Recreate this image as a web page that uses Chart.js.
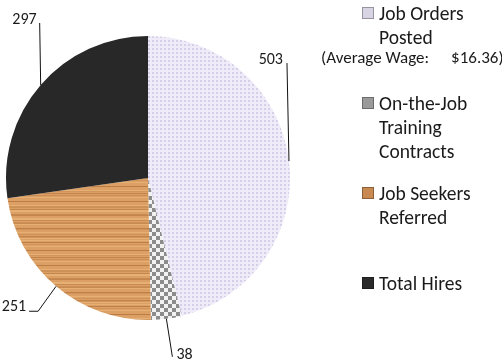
<!doctype html>
<html lang="en">
<head>
<meta charset="utf-8">
<title>Job Orders and Hires</title>
<script src="https://cdn.jsdelivr.net/npm/chart.js@4.4.0/dist/chart.umd.min.js"></script>
<style>
  html, body { margin: 0; padding: 0; background: #fff; }
  #wrap { position: relative; width: 502px; height: 360px; }
  #legend { position: absolute; left: 0; top: 0; width: 502px; height: 360px; pointer-events: none;
            font-family: Carlito, Lato, "Open Sans", sans-serif; color: #1a1a1a; }
  .item { position: absolute; left: 362px; width: 140px; font-size: 19.5px; line-height: 24px; }
  .box { position: absolute; left: 0; top: 6px; width: 10px; height: 10px; border: 1px solid rgba(0,0,0,0.3); }
  .txt { margin-left: 17px; width: 118px; }
  .note { position: absolute; left: 321px; top: 47px; font-size: 17px; line-height: 22px; white-space: nowrap; }
  .note span { padding-left: 22px; }
</style>
</head>
<body>
<div id="wrap">
  <canvas id="pie" width="502" height="360"></canvas>
  <div id="legend"></div>
</div>

<script>
// data
var categories = ['Job Orders Posted', 'On-the-Job Training Contracts', 'Job Seekers Referred', 'Total Hires'];
var counts = [503, 38, 251, 297];
var averageWage = 16.36;

// textures for the slices
function makePattern(size, draw) {
  var c = document.createElement('canvas');
  c.width = size; c.height = size;
  var g = c.getContext('2d');
  draw(g, size);
  return g.createPattern(c, 'repeat');
}

var dots = makePattern(4, function (g) {
  g.fillStyle = '#efebf8'; g.fillRect(0, 0, 4, 4);
  g.fillStyle = '#d6cfe8'; g.fillRect(0, 0, 2, 2);
});
var checks = makePattern(8, function (g) {
  g.fillStyle = '#f2f2f2'; g.fillRect(0, 0, 8, 8);
  g.fillStyle = '#8c8c8c'; g.fillRect(0, 0, 4, 4); g.fillRect(4, 4, 4, 4);
});
var wood = makePattern(64, function (g) {
  g.fillStyle = '#dca064'; g.fillRect(0, 0, 64, 64);
  for (var y = 0; y < 64; y++) {
    var k = Math.sin(y * 0.9) * 0.5 + Math.sin(y * 2.3) * 0.5;
    if (k > 0.25) { g.fillStyle = 'rgba(150,85,35,' + (k * 0.5).toFixed(2) + ')'; g.fillRect(0, y, 64, 1); }
    else if (k < -0.5) { g.fillStyle = 'rgba(250,205,150,0.35)'; g.fillRect(0, y, 64, 1); }
  }
});

var fills = [dots, checks, wood, '#282828'];
var swatches = ['#d9d4e3', '#9a9a9a', '#c98a52', '#2b2b2b'];

// value labels with leader lines, offsets from the slice's outer mid point
var leaders = {
  id: 'leaders',
  afterDatasetsDraw: function (chart, args, opts) {
    var ctx = chart.ctx;
    var meta = chart.getDatasetMeta(0);
    ctx.save();
    ctx.strokeStyle = '#111';
    ctx.lineWidth = 1;
    ctx.fillStyle = '#1a1a1a';
    ctx.font = '16px Carlito, Lato, "Open Sans", sans-serif';
    ctx.textBaseline = 'middle';
    meta.data.forEach(function (arc, i) {
      var p = arc.getProps(['x', 'y', 'startAngle', 'endAngle', 'outerRadius'], true);
      var mid = (p.startAngle + p.endAngle) / 2;
      var ax = p.x + Math.cos(mid) * p.outerRadius;
      var ay = p.y + Math.sin(mid) * p.outerRadius;
      var pts = opts.paths[i];
      ctx.beginPath();
      ctx.moveTo(ax, ay);
      var ex = ax, ey = ay;
      pts.forEach(function (d) { ex = ax + d[0]; ey = ay + d[1]; ctx.lineTo(ex, ey); });
      ctx.stroke();
      var t = opts.text[i];
      ctx.textAlign = t[2];
      ctx.fillText(chart.data.datasets[0].data[i], ex + t[0], ey + t[1]);
    });
    ctx.restore();
  }
};

var chart = new Chart(document.getElementById('pie'), {
  type: 'pie',
  data: {
    labels: categories,
    datasets: [{
      data: counts,
      backgroundColor: fills,
      borderWidth: 0
    }]
  },
  options: {
    responsive: false,
    animation: false,
    layout: { padding: { left: 6, top: 36, right: 212, bottom: 40 } },
    plugins: {
      legend: { display: false },
      tooltip: { enabled: false },
      leaders: {
        paths: [
          [[-2, -98]],
          [[6, 38]],
          [[-18, 25], [-27, 25]],
          [[-1, -62]]
        ],
        text: [
          [-4, -3, 'right'],
          [4, -2, 'left'],
          [-3, -4, 'right'],
          [-3, -3, 'right']
        ]
      }
    }
  },
  plugins: [leaders]
});

// html legend
var tops = [1, 91, 181, 271];
var legend = document.getElementById('legend');
chart.options.plugins.legend.labels.generateLabels(chart).forEach(function (item, i) {
  var div = document.createElement('div');
  div.className = 'item';
  div.style.top = tops[i] + 'px';
  div.innerHTML = '<span class="box" style="background:' + swatches[i] + '"></span><div class="txt">' + item.text + '</div>';
  legend.appendChild(div);
});
var note = document.createElement('div');
note.className = 'note';
note.innerHTML = '(Average Wage:<span>$' + averageWage.toFixed(2) + ')</span>';
legend.appendChild(note);
</script>
</body>
</html>
